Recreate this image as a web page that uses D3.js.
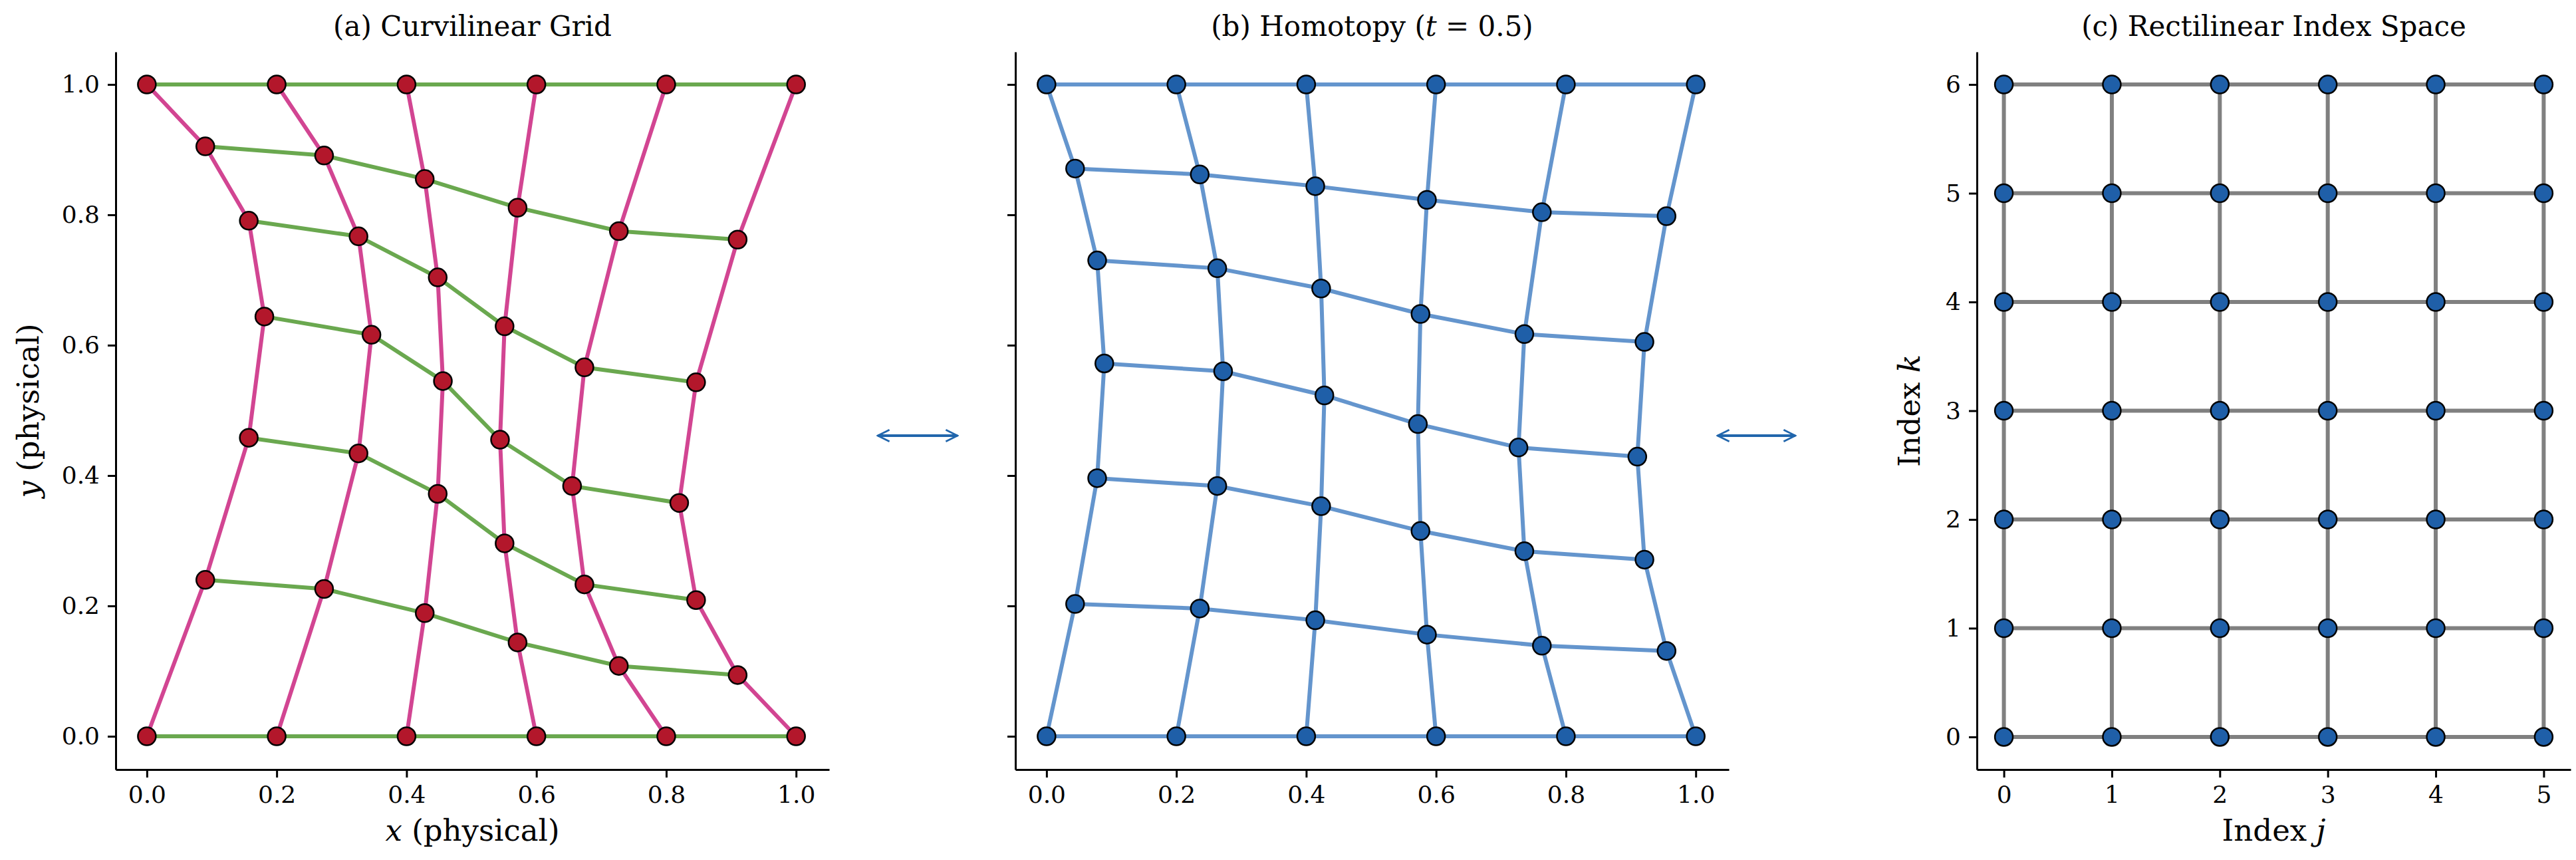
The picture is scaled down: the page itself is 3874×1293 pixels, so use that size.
<!DOCTYPE html>
<html>
<head>
<meta charset="utf-8">
<script src="https://cdn.jsdelivr.net/npm/d3@7"></script>
<style>
body { margin: 0; background: #fff; }
text { font-family: "DejaVu Serif", serif; }
</style>
</head>
<body>
<svg id="fig" width="3874" height="1293"></svg>
<script>
// grid node positions, rows k = 0..6 (bottom to top), columns j = 0..5
const curvX = [
	[0, 0.2, 0.4, 0.6, 0.8, 1.0],
	[0.090, 0.273, 0.428, 0.571, 0.727, 0.910],
	[0.157, 0.326, 0.448, 0.551, 0.674, 0.846],
	[0.181, 0.346, 0.456, 0.544, 0.655, 0.820],
	[0.157, 0.326, 0.448, 0.551, 0.674, 0.846],
	[0.090, 0.273, 0.428, 0.571, 0.727, 0.910],
	[0, 0.2, 0.4, 0.6, 0.8, 1.0]
];
const curvY = [
	[0, 0, 0, 0, 0, 0],
	[0.240, 0.226, 0.189, 0.144, 0.108, 0.094],
	[0.458, 0.434, 0.372, 0.296, 0.233, 0.209],
	[0.644, 0.616, 0.545, 0.455, 0.384, 0.358],
	[0.791, 0.767, 0.704, 0.629, 0.566, 0.543],
	[0.905, 0.891, 0.855, 0.811, 0.775, 0.762],
	[1, 1, 1, 1, 1, 1]
];
const homX = [
	[0, 0.2, 0.4, 0.6, 0.8, 1.0],
	[0.044, 0.236, 0.414, 0.586, 0.763, 0.955],
	[0.078, 0.263, 0.423, 0.576, 0.736, 0.921],
	[0.089, 0.272, 0.428, 0.572, 0.727, 0.910],
	[0.078, 0.263, 0.423, 0.576, 0.736, 0.921],
	[0.044, 0.236, 0.414, 0.586, 0.763, 0.955],
	[0, 0.2, 0.4, 0.6, 0.8, 1.0]
];
const homY = [
	[0, 0, 0, 0, 0, 0],
	[0.203, 0.196, 0.178, 0.156, 0.139, 0.131],
	[0.396, 0.384, 0.353, 0.315, 0.284, 0.271],
	[0.572, 0.560, 0.523, 0.479, 0.443, 0.429],
	[0.730, 0.718, 0.687, 0.648, 0.617, 0.605],
	[0.871, 0.862, 0.844, 0.823, 0.804, 0.798],
	[1, 1, 1, 1, 1, 1]
];
const indexJ = [0, 1, 2, 3, 4, 5];
const indexK = [0, 1, 2, 3, 4, 5, 6];
const physTicks = [0, 0.2, 0.4, 0.6, 0.8, 1.0];

const svg = d3.select("#fig");
const plotTop = 78, plotBottom = 1157;

function panel(o) {
	const g = svg.append("g");
	const x = d3.scaleLinear().domain(o.xd).range([o.left, o.right]);
	const y = d3.scaleLinear().domain(o.yd).range([plotBottom, plotTop]);

	const xa = g.append("g").attr("transform", `translate(0,${plotBottom})`)
		.call(d3.axisBottom(x).tickValues(o.xt).tickFormat(o.fmt).tickSize(12).tickSizeOuter(0).tickPadding(12));
	const ya = g.append("g").attr("transform", `translate(${o.left},0)`)
		.call(d3.axisLeft(y).tickValues(o.yt).tickFormat(o.yfmt).tickSize(12).tickSizeOuter(0).tickPadding(12));
	[xa, ya].forEach(a => {
		a.selectAll("path").attr("stroke", "#000").attr("stroke-width", 3);
		a.selectAll("line").attr("stroke", "#000").attr("stroke-width", 3);
		a.selectAll("text").style("font-family", "DejaVu Serif").style("font-size", "36px").attr("fill", "#000");
	});

	const X = o.X, Y = o.Y;
	const rows = X.map((r, k) => r.map((v, j) => [x(v), y(Y[k][j])]));
	const cols = X[0].map((_, j) => rows.map(r => r[j]));
	const line = d3.line();
	g.selectAll(".col").data(cols).join("path")
		.attr("d", line).attr("fill", "none").attr("stroke", o.colColor).attr("stroke-width", 6);
	g.selectAll(".row").data(rows).join("path")
		.attr("d", line).attr("fill", "none").attr("stroke", o.rowColor).attr("stroke-width", 6);
	g.selectAll(".pt").data(rows.flat()).join("circle")
		.attr("cx", d => d[0]).attr("cy", d => d[1]).attr("r", 13.5)
		.attr("fill", o.dot).attr("stroke", "#000").attr("stroke-width", 2.5);

	g.append("text").attr("x", (o.left + o.right) / 2).attr("y", 54)
		.attr("text-anchor", "middle").style("font-size", "42px").html(o.title);
	if (o.xlabel) g.append("text").attr("x", (o.left + o.right) / 2).attr("y", 1264)
		.attr("text-anchor", "middle").style("font-size", "45px").html(o.xlabel);
	if (o.ylabel) g.append("text").attr("transform", `translate(${o.ylx},${(plotTop + plotBottom) / 2}) rotate(-90)`)
		.attr("text-anchor", "middle").style("font-size", "45px").html(o.ylabel);
}

const fmt1 = d3.format(".1f");
panel({
	left: 174, right: 1247, xd: [-0.048, 1.051], yd: [-0.051, 1.05],
	X: curvX, Y: curvY, xt: physTicks, yt: physTicks, fmt: fmt1, yfmt: fmt1,
	colColor: "#d24592", rowColor: "#6aa84f", dot: "#b3172b",
	title: "(a) Curvilinear Grid",
	xlabel: '<tspan font-style="italic">x</tspan> (physical)',
	ylabel: '<tspan font-style="italic">y</tspan> (physical)', ylx: 58
});
panel({
	left: 1527, right: 2600, xd: [-0.048, 1.051], yd: [-0.051, 1.05],
	X: homX, Y: homY, xt: physTicks, yt: physTicks, fmt: fmt1, yfmt: () => "",
	colColor: "#6495cd", rowColor: "#6495cd", dot: "#1f5fa8",
	title: '(b) Homotopy (<tspan font-style="italic">t</tspan> = 0.5)'
});
panel({
	left: 2973, right: 3866, xd: [-0.25, 5.25], yd: [-0.3, 6.3],
	X: indexK.map(() => indexJ.slice()), Y: indexK.map(k => indexJ.map(() => k)),
	xt: indexJ, yt: indexK, fmt: d3.format("d"), yfmt: d3.format("d"),
	colColor: "#808080", rowColor: "#808080", dot: "#1f5fa8",
	title: "(c) Rectilinear Index Space",
	xlabel: 'Index <tspan font-style="italic">j</tspan>',
	ylabel: 'Index <tspan font-style="italic">k</tspan>', ylx: 2887
});

// double arrows between panels
svg.append("defs").append("marker").attr("id", "hd").attr("viewBox", "0 0 10 10")
	.attr("refX", 9).attr("refY", 5).attr("markerWidth", 22).attr("markerHeight", 22)
	.attr("markerUnits", "userSpaceOnUse").attr("orient", "auto-start-reverse")
	.append("path").attr("d", "M1,1 L9,5 L1,9").attr("fill", "none").attr("stroke", "#2166ac").attr("stroke-width", 1.2);
[[1320, 1440], [2583, 2700]].forEach(a => {
	svg.append("line").attr("x1", a[0]).attr("x2", a[1]).attr("y1", 655).attr("y2", 655)
		.attr("stroke", "#2166ac").attr("stroke-width", 4)
		.attr("marker-start", "url(#hd)").attr("marker-end", "url(#hd)");
});
</script>
</body>
</html>
